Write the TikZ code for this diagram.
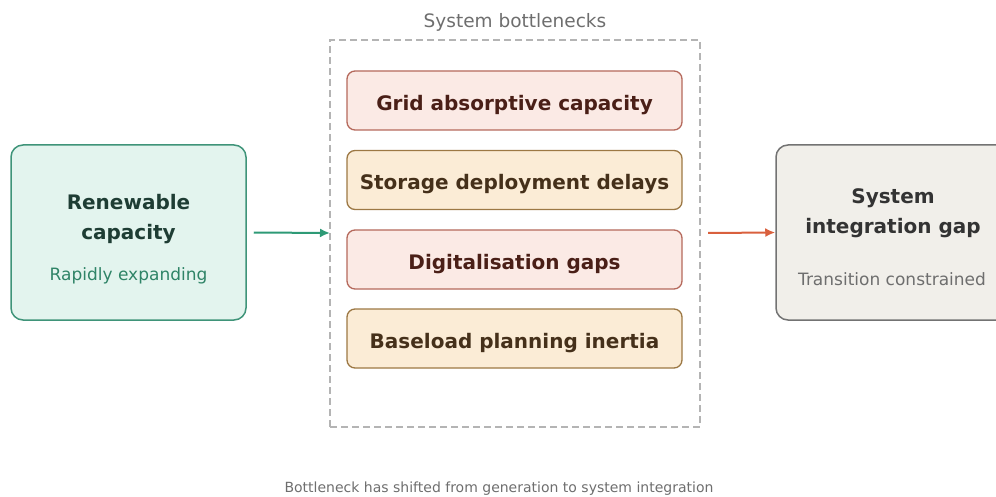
\documentclass[tikz,border=0pt]{standalone}
\usepackage{fontspec}
\setmainfont{DejaVu Sans}
\usetikzlibrary{arrows.meta}

\definecolor{mintfill}{HTML}{E3F4EE}
\definecolor{mintline}{HTML}{3F9479}
\definecolor{minttext}{HTML}{1E3D34}
\definecolor{mintsub}{HTML}{2F8467}
\definecolor{rosefill}{HTML}{FBEAE5}
\definecolor{roseline}{HTML}{B5695C}
\definecolor{rosetext}{HTML}{4A1F17}
\definecolor{sandfill}{HTML}{FBECD6}
\definecolor{sandline}{HTML}{9C7844}
\definecolor{sandtext}{HTML}{45301A}
\definecolor{greyfill}{HTML}{F1EFEA}
\definecolor{greyline}{HTML}{737373}
\definecolor{greytext}{HTML}{333333}
\definecolor{greysub}{HTML}{6E6E6E}
\definecolor{dashgrey}{HTML}{B4B4B4}
\definecolor{arrowgreen}{HTML}{2E9A76}
\definecolor{arrowred}{HTML}{D9603D}

\tikzset{
  bigbox/.style={draw, line width=1.5pt, rounded corners=12pt,
    minimum width=235pt, minimum height=175pt},
  neckbox/.style={draw, line width=1.3pt, rounded corners=8pt,
    minimum width=335pt, minimum height=59pt, text height=20pt, text depth=0pt,
    font=\fontsize{20}{24}\selectfont\bfseries},
  rosebox/.style={neckbox, fill=rosefill, draw=roseline, text=rosetext},
  sandbox/.style={neckbox, fill=sandfill, draw=sandline, text=sandtext},
  titletext/.style={align=center, font=\fontsize{20}{30}\selectfont\bfseries},
  subtext/.style={anchor=base, font=\fontsize{17}{20}\selectfont},
  flow/.style={-{Latex[length=10pt,width=9pt]}, line width=2pt}
}

\begin{document}
\begin{tikzpicture}[x=1pt, y=-1pt]
  \useasboundingbox (0,0) rectangle (996,497);
  \clip (0,0) rectangle (996,497);

  % Draw the bottleneck frame
  \node[draw=dashgrey, dash pattern=on 7pt off 4pt, line width=1.2pt,
    minimum width=370pt, minimum height=387pt] (frame) at (515,233.5) {};
  \node[anchor=base, text=greysub, font=\fontsize{18.5}{22}\selectfont]
    (framelabel) at (515,28) {System bottlenecks};

  % Draw the bottlenecks
  \node[rosebox] (grid) at (514.5,100.5) {Grid absorptive capacity};
  \node[sandbox] (storage) at (514.5,180) {Storage deployment delays};
  \node[rosebox] (digital) at (514.5,259.5) {Digitalisation gaps};
  \node[sandbox] (baseload) at (514.5,338.5) {Baseload planning inertia};

  % Draw the two outer boxes
  \node[bigbox, fill=mintfill, draw=mintline] (renew) at (128.5,232.5) {};
  \node[titletext, text=minttext] (renewtitle) at (128.5,219)
    {Renewable\\capacity};
  \node[subtext, text=mintsub] (renewsub) at (128.5,280) {Rapidly expanding};

  \node[bigbox, fill=greyfill, draw=greyline] (gap) at (893.5,232.5) {};
  \node[titletext, text=greytext] (gaptitle) at (893,213)
    {System\\integration gap};
  \node[subtext, text=greysub] (gapsub) at (892,285) {Transition constrained};

  % Draw the arrows
  \coordinate (inend) at (330,233);
  \coordinate (outstart) at (708,233);
  \draw[flow, arrowgreen] (renew.east) ++(7,0) -- (inend);
  \draw[flow, arrowred] (outstart) -- (gap.west);

  % Caption
  \node[anchor=base, text=greysub, font=\fontsize{14}{17}\selectfont]
    (caption) at (499,492.5)
    {Bottleneck has shifted from generation to system integration};
\end{tikzpicture}
\end{document}
